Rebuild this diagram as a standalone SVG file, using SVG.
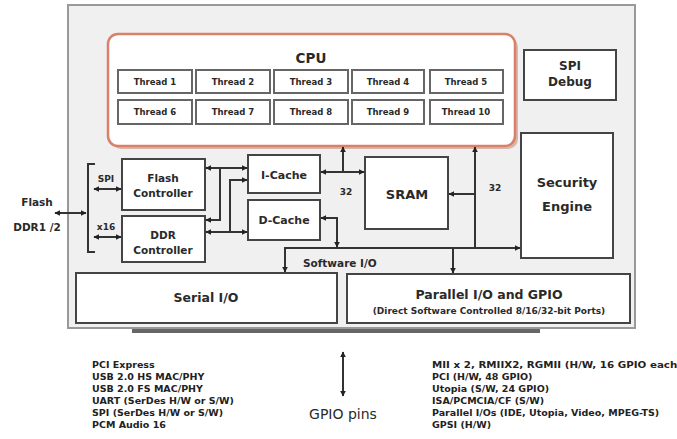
<svg xmlns="http://www.w3.org/2000/svg" width="677" height="439" viewBox="0 0 677 439">
<defs>
<marker id="ah" viewBox="0 0 10 10" refX="9" refY="5" markerWidth="6" markerHeight="6" markerUnits="userSpaceOnUse" orient="auto-start-reverse">
<path d="M0,0 L10,5 L0,10 z" fill="#222"/>
</marker>
</defs>
<style>
text{font-family:"DejaVu Sans","Liberation Sans",sans-serif;font-weight:bold;fill:#2a2a2a;text-anchor:middle}
.box{fill:#fff;stroke:#444;stroke-width:2}
.thr{fill:#fff;stroke:#666;stroke-width:2}
.t{font-size:8.5px}
.lbl{font-size:13px}
.mid{font-size:11px}
.sm{font-size:10.5px}
.tiny{font-size:9px}
.ln{fill:none;stroke:#333;stroke-width:2}
.a2{marker-start:url(#ah);marker-end:url(#ah)}
.a1{marker-end:url(#ah)}
.list{font-size:9.5px;text-anchor:start;fill:#222}
</style>
<rect width="677" height="439" fill="#fff"/>
<g id="chip">
<rect x="68" y="5" width="567" height="323" fill="#f0f0f0" stroke="#999" stroke-width="2"/>
<rect x="132" y="329" width="408" height="4" fill="#666"/>
</g>
<g id="cpu">
<rect x="111" y="37" width="407" height="112" rx="10" fill="#d8b7ad"/>
<rect x="108" y="34" width="407" height="112" rx="10" fill="#fff" stroke="#d9806a" stroke-width="2.5"/>
<text x="311" y="63" style="font-size:13.5px">CPU</text>
</g>
<g id="threads">
<rect class="thr" x="118" y="70" width="74" height="23"/><text class="t" x="155" y="85">Thread 1</text>
<rect class="thr" x="196" y="70" width="74" height="23"/><text class="t" x="233" y="85">Thread 2</text>
<rect class="thr" x="274" y="70" width="74" height="23"/><text class="t" x="311" y="85">Thread 3</text>
<rect class="thr" x="352" y="70" width="72" height="23"/><text class="t" x="388" y="85">Thread 4</text>
<rect class="thr" x="430" y="70" width="73" height="23"/><text class="t" x="466" y="85">Thread 5</text>
<rect class="thr" x="118" y="100" width="74" height="24"/><text class="t" x="155" y="115">Thread 6</text>
<rect class="thr" x="196" y="100" width="74" height="24"/><text class="t" x="233" y="115">Thread 7</text>
<rect class="thr" x="274" y="100" width="74" height="24"/><text class="t" x="311" y="115">Thread 8</text>
<rect class="thr" x="352" y="100" width="72" height="24"/><text class="t" x="388" y="115">Thread 9</text>
<rect class="thr" x="430" y="100" width="73" height="24"/><text class="t" x="466" y="115">Thread 10</text>
</g>
<g id="spi-debug">
<rect class="box" x="524" y="50" width="92" height="50"/>
<text x="570" y="70" style="font-size:12px">SPI</text>
<text x="570" y="86" style="font-size:12px">Debug</text>
</g>
<g id="security">
<rect class="box" x="521" y="133" width="92" height="125"/>
<text class="lbl" x="567" y="187">Security</text>
<text class="lbl" x="567" y="211">Engine</text>
</g>
<g id="flash-ctrl">
<rect class="box" x="122" y="159" width="83" height="51"/>
<text class="sm" x="163" y="182">Flash</text>
<text class="sm" x="163" y="197">Controller</text>
</g>
<g id="ddr-ctrl">
<rect class="box" x="122" y="216" width="83" height="46"/>
<text class="sm" x="163" y="239">DDR</text>
<text class="sm" x="163" y="254">Controller</text>
</g>
<g id="icache">
<rect class="box" x="248" y="155" width="72" height="38"/>
<text class="mid" x="284" y="179">I-Cache</text>
</g>
<g id="dcache">
<rect class="box" x="248" y="200" width="72" height="40"/>
<text class="mid" x="284" y="224">D-Cache</text>
</g>
<g id="sram">
<rect class="box" x="365" y="157" width="83" height="72"/>
<text class="lbl" x="407" y="199">SRAM</text>
</g>
<g id="serial">
<rect class="box" x="76" y="273" width="261" height="50"/>
<text x="206" y="302" style="font-size:12.5px">Serial I/O</text>
</g>
<g id="parallel">
<rect class="box" x="347" y="274" width="283" height="49"/>
<text x="489" y="299" style="font-size:12.5px">Parallel I/O and GPIO</text>
<text class="tiny" x="489" y="314">(Direct Software Controlled 8/16/32-bit Ports)</text>
</g>
<g id="connectors">
<text class="sm" x="37" y="206">Flash</text>
<text class="sm" x="37" y="231">DDR1 /2</text>
<line class="ln a2" x1="55" y1="213" x2="86" y2="213"/>
<path class="ln" d="M95,164 H88 V252 H95"/>
<text class="tiny" x="106" y="182">SPI</text>
<line class="ln a2" x1="94" y1="189" x2="121" y2="189"/>
<text class="tiny" x="106" y="230">x16</text>
<line class="ln a2" x1="94" y1="237" x2="121" y2="237"/>
<line class="ln a2" x1="206" y1="168" x2="247" y2="168"/>
<path class="ln a1" d="M220,168 V220 H206"/>
<path class="ln a1" d="M230,232 V180 H247"/>
<line class="ln a2" x1="206" y1="232" x2="247" y2="232"/>
<line class="ln a2" x1="321" y1="172" x2="364" y2="172"/>
<line class="ln a1" x1="343" y1="172" x2="343" y2="147"/>
<text class="tiny" x="346" y="195">32</text>
<path class="ln a2" d="M321,218 H337 V247"/>
<line class="ln a1" x1="475" y1="248" x2="475" y2="147"/>
<line class="ln a1" x1="475" y1="194" x2="449" y2="194"/>
<text class="tiny" x="495" y="191">32</text>
<line class="ln a1" x1="285" y1="248" x2="520" y2="248"/>
<line class="ln a1" x1="285" y1="247" x2="285" y2="272"/>
<line class="ln a1" x1="453" y1="248" x2="453" y2="273"/>
<text x="303" y="267" style="font-size:10.5px;text-anchor:start">Software I/O</text>
<line class="ln a2" x1="343" y1="352" x2="343" y2="396"/>
</g>
<g id="gpio-label">
<text x="343" y="419" style="font-size:14px;font-weight:normal">GPIO pins</text>
</g>
<g id="serial-list">
<text class="list" x="92" y="368">PCI Express</text>
<text class="list" x="92" y="380">USB 2.0 HS MAC/PHY</text>
<text class="list" x="92" y="392">USB 2.0 FS MAC/PHY</text>
<text class="list" x="92" y="404">UART (SerDes H/W or S/W)</text>
<text class="list" x="92" y="416">SPI (SerDes H/W or S/W)</text>
<text class="list" x="92" y="428">PCM Audio 16</text>
</g>
<g id="parallel-list">
<text class="list" x="432" y="368" textLength="250" lengthAdjust="spacingAndGlyphs">MII x 2, RMIIX2, RGMII (H/W, 16 GPIO each)</text>
<text class="list" x="432" y="380">PCI (H/W, 48 GPIO)</text>
<text class="list" x="432" y="392">Utopia (S/W, 24 GPIO)</text>
<text class="list" x="432" y="404">ISA/PCMCIA/CF (S/W)</text>
<text class="list" x="432" y="416">Parallel I/Os (IDE, Utopia, Video, MPEG-TS)</text>
<text class="list" x="432" y="428">GPSI (H/W)</text>
</g>
</svg>
